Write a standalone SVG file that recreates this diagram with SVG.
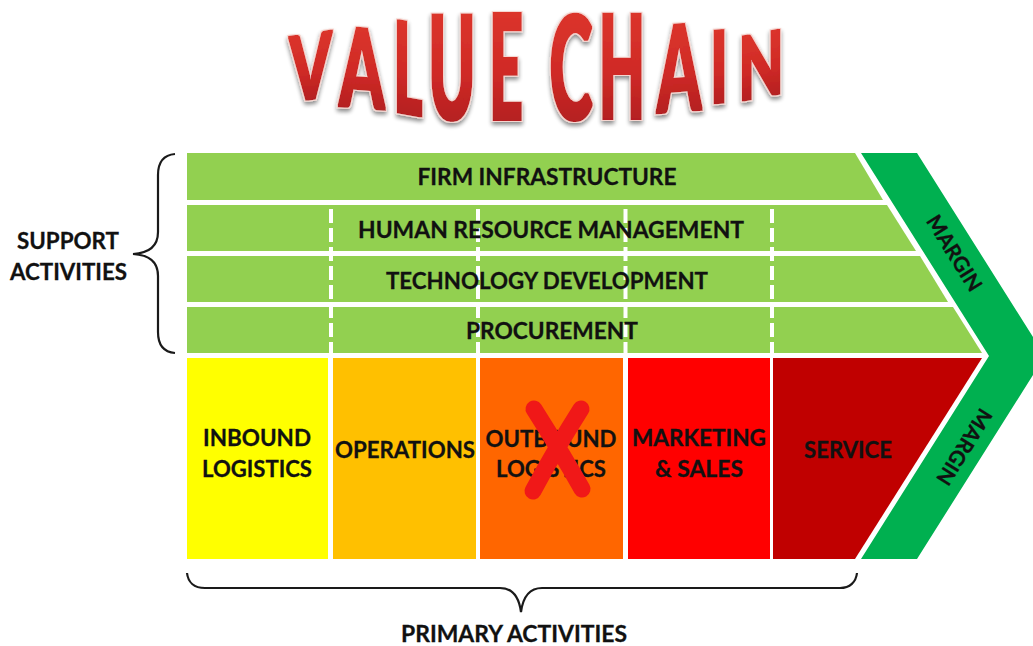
<svg xmlns="http://www.w3.org/2000/svg" width="1033" height="646" viewBox="0 0 1033 646">
<style>
text{font-family:"Lato","Carlito","Liberation Sans",sans-serif;font-weight:700;fill:#111}
.l{font-size:23.5px;stroke:#111;stroke-width:.3px}
.c{text-anchor:middle}
.t{font-size:100px;font-weight:900;text-anchor:middle;fill:url(#red)}
.m{font-size:21px;text-anchor:middle;stroke:#111;stroke-width:.3px}
.b{fill:none;stroke:#1a1a1a;stroke-width:2.2}
.d{stroke:#fff;stroke-width:4;stroke-dasharray:14 5;stroke-dashoffset:15;fill:none}
</style>
<defs>
<linearGradient id="red" x1="0" y1="0" x2="0" y2="1"><stop offset="0" stop-color="#e23a2e"/><stop offset=".55" stop-color="#cf2a26"/><stop offset="1" stop-color="#a3181c"/></linearGradient>
<filter id="sh" filterUnits="userSpaceOnUse" x="260" y="0" width="560" height="140">
<feMorphology in="SourceGraphic" operator="dilate" radius="1.4 .5" result="fat"/>
<feMorphology in="fat" operator="dilate" radius="1" result="edge"/>
<feFlood flood-color="#f6d6d0"/><feComposite in2="edge" operator="in" result="rim"/>
<feGaussianBlur in="edge" stdDeviation="2.2"/><feOffset dy="2.5"/><feComponentTransfer result="shadow"><feFuncR type="linear" slope="0"/><feFuncG type="linear" slope="0"/><feFuncB type="linear" slope="0"/><feFuncA type="linear" slope=".45"/></feComponentTransfer>
<feMerge><feMergeNode in="shadow"/><feMergeNode in="rim"/><feMergeNode in="fat"/></feMerge></filter>
</defs>
<rect width="1033" height="646" fill="#fff"/>
<g id="title" filter="url(#sh)">
<text class="t" transform="matrix(.6 -.09 0 .9 310.500 99)">V</text>
<text class="t" transform="matrix(.645 .05 0 1.1 362 108)">A</text>
<text class="t" transform="matrix(.545 .1 0 1.27 408 114)">L</text>
<text class="t" transform="matrix(.635 0 0 1.45 452 120)">U</text>
<text class="t" transform="matrix(.585 0 0 1.46 506 120)">E</text>
<text class="t" transform="matrix(.65 0 0 1.44 571 120)">C</text>
<text class="t" transform="matrix(.6 0 0 1.44 622 118.500)">H</text>
<text class="t" transform="matrix(.63 -.05 0 1.2 679 111.500)">A</text>
<text class="t" transform="matrix(.58 -.05 0 1 719 103)">I</text>
<text class="t" transform="matrix(.585 -.11 0 .88 761 97)">N</text>
</g>
<g id="firm-infrastructure"><polygon points="187,153 855,153 883,200 187,200" fill="#92d050"/><text class="l c" x="547" y="185" textLength="259" lengthAdjust="spacingAndGlyphs">FIRM INFRASTRUCTURE</text></g>
<g id="human-resource-management"><polygon points="187,205 887,205 916,251 187,251" fill="#92d050"/></g>
<g id="technology-development"><polygon points="187,256 920,256 948,302 187,302" fill="#92d050"/></g>
<g id="procurement"><polygon points="187,307 953,307 982,353 187,353" fill="#92d050"/></g>
<g id="inbound-logistics"><rect x="187" y="358" width="141" height="201" fill="#ffff00"/><text class="l c" x="257" y="446" textLength="108" lengthAdjust="spacingAndGlyphs">INBOUND</text><text class="l c" x="257" y="477" textLength="110" lengthAdjust="spacingAndGlyphs">LOGISTICS</text></g>
<g id="operations"><rect x="333" y="358" width="143" height="201" fill="#ffc000"/><text class="l c" x="405" y="458" textLength="140" lengthAdjust="spacingAndGlyphs">OPERATIONS</text></g>
<g id="outbound-logistics"><rect x="480" y="358" width="143" height="201" fill="#ff6600"/><text class="l c" x="551" y="447" textLength="131" lengthAdjust="spacingAndGlyphs">OUTBOUND</text><text class="l c" x="551" y="477" textLength="110" lengthAdjust="spacingAndGlyphs">LOGISTICS</text><path d="M534 409Q560 450 582 489M581 409Q555 450 533 491" fill="none" stroke="#f01818" stroke-width="17" stroke-linecap="round"/></g>
<g id="marketing-sales"><rect x="628" y="358" width="142" height="201" fill="#ff0000"/><text class="l c" x="699" y="446" textLength="134" lengthAdjust="spacingAndGlyphs">MARKETING</text><text class="l c" x="699" y="477" textLength="88" lengthAdjust="spacingAndGlyphs">&amp; SALES</text></g>
<g id="service"><polygon points="773,358 982,358 855,559 773,559" fill="#c00000"/><text class="l c" x="848" y="458" textLength="88" lengthAdjust="spacingAndGlyphs">SERVICE</text></g>
<g id="margin"><polygon points="861,153 917,153 1045,356 917,559 861,559 989,356" fill="#00b050"/><text class="m" transform="translate(948 257) rotate(58)">MARGIN</text><text class="m" transform="translate(958 443) rotate(122)">MARGIN</text></g>
<g id="connectors">
<path class="d" d="M331 205V358M478 205V358M625.500 205V358M772 205V358"/>
<path class="b" d="M175 154C163 155 158 162 158 175V232C158 245 150 253 133 254C150 255 158 263 158 276V332C158 345 163 352 175 353"/>
<path class="b" d="M187 573C188 582 194 588 205 588H500C512 588 519 597 521 612C523 597 530 588 542 588H840C850 588 856 582 857 573"/>
</g>
<g id="row-labels">
<text class="l c" x="551" y="238" textLength="386" lengthAdjust="spacingAndGlyphs">HUMAN RESOURCE MANAGEMENT</text>
<text class="l c" x="547" y="289" textLength="322" lengthAdjust="spacingAndGlyphs">TECHNOLOGY DEVELOPMENT</text>
<text class="l c" x="552" y="339" textLength="172" lengthAdjust="spacingAndGlyphs">PROCUREMENT</text>
</g>
<g id="support-activities"><text class="l c" x="68" y="249" textLength="102" lengthAdjust="spacingAndGlyphs">SUPPORT</text><text class="l c" x="68.500" y="280" textLength="117" lengthAdjust="spacingAndGlyphs">ACTIVITIES</text></g>
<g id="primary-activities"><text class="l c" x="514" y="642" textLength="226" lengthAdjust="spacingAndGlyphs">PRIMARY ACTIVITIES</text></g>
</svg>
